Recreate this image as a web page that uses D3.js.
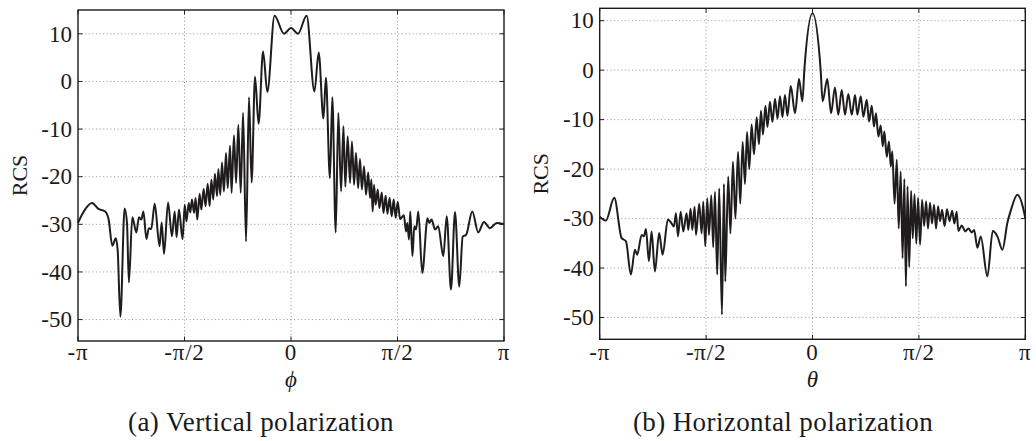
<!DOCTYPE html>
<html><head><meta charset="utf-8">
<script src="https://cdn.jsdelivr.net/npm/d3@7"></script>
<style>
html,body{margin:0;padding:0;background:#fff;}
svg text{font-family:"Liberation Serif","Times New Roman",serif;fill:#1a1a1a;}
</style></head>
<body>
<svg id="chart" width="1036" height="441"></svg>
<script>
// ---------- data (angles in degrees, RCS in dB) ----------
const xTickValues = [-180, -90, 0, 90, 180];
const xTickLabels = ["-π", "-π/2", "0", "π/2", "π"];
const yTickValues = [10, 0, -10, -20, -30, -40, -50];
const yTickLabels = ["10", "0", "-10", "-20", "-30", "-40", "-50"];

// (a) Vertical polarization: phi (deg)
const phiA = [-180,-175.9,-168.1,-163.1,-157.0,-154.1,-151.0,-148.1,-146.5,-144.2,-140.6,-138.6,-137.0,-134.1,-130.7,-128.5,-126.5,-124.7,-122.2,-120.1,-118.1,-115.2,-111.1,-109.3,-107.3,-103.9,-100.6,-98.3,-96.7,-94.7,-91.6,-89.8,-88.4,-86.4,-85.1,-83.7,-81.9,-80.6,-79.2,-77.2,-75.8,-73.8,-72.2,-70.4,-68.8,-67.3,-65.7,-64.3,-62.5,-61.4,-59.8,-58.3,-56.7,-54.9,-53.5,-51.5,-50.2,-48.2,-46.4,-44.5,-42.5,-40.5,-38.0,-35.5,-33.3,-30.4,-27.4,-23.6,-20.0,-13.9,-5.9,0,
  5.9,13.2,19.8,23.4,27.4,29.5,32.9,34.9,37.8,40.0,42.3,44.3,45.9,47.9,49.9,51.5,53.3,54.9,56.7,58.3,59.9,61.7,63.4,65.2,66.8,67.9,69.0,70.2,71.5,73.3,74.7,76.7,78.1,80.0,81.5,83.3,85.1,86.8,88.4,90.2,92.2,95.4,97.2,98.3,99.7,100.8,102.6,104.2,105.7,107.6,110.9,115.4,116.8,118.8,121.7,124.4,128.7,131.6,135.2,138.6,142.2,145.1,148.0,153.2,158.2,163.1,168.1,173.9,180];
const rcsA = [-29.7,-27.6,-25.5,-26.7,-27.3,-29.0,-34.5,-32.9,-35.3,-49.4,-26.7,-29.7,-42.2,-28.5,-31.7,-28.5,-29.0,-27.3,-33.1,-30.8,-31.0,-25.7,-34.6,-29.6,-36.2,-25.4,-32.5,-27.3,-32.7,-26.9,-33.1,-25.9,-29.4,-25.5,-27.5,-24.8,-27.6,-24.5,-29.0,-23.6,-26.9,-22.6,-26.2,-21.5,-26.2,-20.6,-24.8,-19.4,-24.1,-18.4,-23.8,-17.0,-23.1,-15.0,-22.4,-13.5,-23.4,-11.3,-21.3,-9.1,-23.4,-6.6,-33.6,-3.3,-21.2,1.0,-8.9,6.3,-2.2,13.8,10.0,11.2,
  10.0,13.8,-2.1,6.1,-7.8,0.8,-20.3,-3.3,-31.7,-6.6,-23.1,-9.4,-22.1,-11.5,-21.3,-12.6,-21.7,-15.0,-22.4,-16.3,-22.7,-17.8,-23.8,-19.1,-24.5,-20.6,-27.3,-21.7,-25.9,-22.7,-26.6,-23.3,-27.6,-24.0,-27.8,-24.5,-28.3,-24.8,-28.6,-25.3,-28.9,-28.1,-31.5,-29.7,-33.2,-27.3,-36.7,-30.4,-31.1,-27.3,-40.2,-28.7,-29.7,-29.0,-31.1,-30.4,-36.7,-28.3,-43.7,-27.4,-43.1,-32.6,-32.2,-27.3,-31.7,-29.5,-30.8,-29.7,-30.0];

// (b) Horizontal polarization: theta (deg)
const thetaB = [-180,-174.8,-167.7,-161.5,-157.8,-153.6,-150.2,-148.3,-144.5,-142.6,-140.9,-138.4,-136.1,-133.3,-129.7,-126.8,-122.3,-120.0,-117.2,-115.5,-113.8,-111.5,-109.3,-106.5,-105.1,-103.1,-101.7,-99.7,-98.6,-95.8,-93.8,-92.4,-90.7,-89.0,-87.6,-85.6,-84.0,-82.5,-80.6,-78.9,-76.6,-74.9,-73.8,-71.3,-69.4,-67.3,-65.2,-63.0,-61.1,-59.1,-57.1,-55.4,-53.5,-51.5,-49.5,-47.2,-45.3,-43.6,-41.9,-39.8,-38.1,-36.0,-33.9,-31.7,-29.6,-27.5,-25.4,-23.3,-21.2,-18.4,-14.8,-11.4,-8.6,-6.9,0,
  6.9,8.6,12.5,15.7,19.0,21.8,24.7,27.5,30.3,33.2,36.0,37.9,40.8,43.0,45.9,47.8,50.1,52.0,53.7,55.7,57.7,59.4,60.8,62.8,64.7,66.2,67.5,69.4,71.3,72.9,74.6,76.2,77.7,79.0,80.4,81.8,83.4,84.8,86.3,87.8,89.3,91.0,92.7,94.4,96.1,97.7,99.4,101.1,102.8,104.5,106.2,107.9,109.6,111.7,113.8,115.9,118.1,120.0,121.9,123.4,126.3,129.1,131.9,134.7,136.7,139.5,142.3,147.9,152.5,156.4,160.6,164.9,167.7,173.3,177.9,180];
const rcsB = [-29.6,-30.4,-25.8,-33.9,-34.6,-41.3,-36.3,-37.3,-33.3,-33.6,-32.1,-38.6,-32.6,-40.7,-32.9,-37.3,-30.2,-30.7,-31.6,-28.9,-33.6,-28.6,-32.6,-28.9,-32.3,-28.0,-32.3,-27.6,-33.3,-27.0,-33.0,-26.6,-35.6,-25.9,-33.3,-25.3,-35.8,-24.6,-41.3,-23.9,-49.4,-23.0,-42.7,-21.5,-33,-18.5,-30,-16.5,-27,-14.5,-23,-12.5,-20,-11,-17,-9.5,-15,-8.2,-13,-7.2,-11.5,-6.4,-10.5,-5.8,-9.8,-5.3,-9.5,-5.0,-9.2,-3.2,-8.7,-1.8,-6.3,0,11.5,
  0,-6.3,-1.8,-8.7,-3.5,-9.0,-4.0,-9.0,-4.8,-9.0,-5.0,-9.0,-5.3,-9.4,-6.0,-10.4,-7.2,-11.4,-8.7,-13.4,-11.2,-15.4,-12.4,-17.5,-14.4,-19.5,-16.4,-27,-18.1,-32,-20.5,-38,-22,-43.7,-23.5,-39.8,-24.4,-34,-25.1,-35.1,-25.8,-35.3,-26.2,-31.5,-26.5,-32,-26.8,-31,-27.2,-32,-27.5,-30.5,-28.2,-31.5,-28.1,-30.5,-28.4,-31,-28.6,-32.5,-31.4,-32.6,-32.0,-32.8,-32.3,-35.9,-33.6,-41.7,-32.5,-33.6,-36.3,-30.8,-28.4,-25.2,-27.6,-29.9];

const panels = [
  {x: phiA, y: rcsA, xr:[78,504], yr:[10,341], yd:[-54.5,15], xlab:"ϕ", cap:"(a) Vertical polarization", ylabX:27, capX:261},
  {x: thetaB, y: rcsB, xr:[599.7,1025.3], yr:[8.3,339.3], yd:[-54.4,12.5], xlab:"θ", cap:"(b) Horizontal polarization", ylabX:548, capX:783}
];

const svg = d3.select("#chart");
const tl = 4.5;

panels.forEach(p => {
  const x = d3.scaleLinear().domain([-180,180]).range(p.xr);
  const y = d3.scaleLinear().domain(p.yd).range([p.yr[1], p.yr[0]]);
  const g = svg.append("g");
  const [x0,x1] = p.xr, [y0,y1] = p.yr;

  // grid
  g.selectAll(".hg").data(yTickValues).join("line")
    .attr("x1",x0).attr("x2",x1).attr("y1",d=>y(d)).attr("y2",d=>y(d))
    .attr("stroke","#8a8a8a").attr("stroke-width",0.9).attr("stroke-dasharray","1,2.6");
  g.selectAll(".vg").data(xTickValues.slice(1,-1)).join("line")
    .attr("x1",d=>x(d)).attr("x2",d=>x(d)).attr("y1",y0).attr("y2",y1)
    .attr("stroke","#8a8a8a").attr("stroke-width",0.9).attr("stroke-dasharray","1,2.6");

  // curve
  const line = d3.line().x((d,i)=>x(p.x[i])).y((d,i)=>y(p.y[i])).curve(d3.curveMonotoneX);
  g.append("path").datum(p.y).attr("d", line)
    .attr("fill","none").attr("stroke","#1f1c1d").attr("stroke-width",2).attr("stroke-linejoin","round");

  // ticks (inward, all sides)
  yTickValues.forEach(v => {
    g.append("line").attr("x1",x0).attr("x2",x0+tl).attr("y1",y(v)).attr("y2",y(v)).attr("stroke","#222");
    g.append("line").attr("x1",x1).attr("x2",x1-tl).attr("y1",y(v)).attr("y2",y(v)).attr("stroke","#222");
  });
  xTickValues.forEach(v => {
    g.append("line").attr("x1",x(v)).attr("x2",x(v)).attr("y1",y1).attr("y2",y1-tl).attr("stroke","#222");
    g.append("line").attr("x1",x(v)).attr("x2",x(v)).attr("y1",y0).attr("y2",y0+tl).attr("stroke","#222");
  });

  // frame
  g.append("rect").attr("x",x0).attr("y",y0).attr("width",x1-x0).attr("height",y1-y0)
    .attr("fill","none").attr("stroke","#1a1a1a").attr("stroke-width",1.4);

  // tick labels
  g.selectAll(".yl").data(yTickValues).join("text")
    .attr("x",x0-6).attr("y",d=>y(d)+7.8).attr("text-anchor","end")
    .attr("font-size",23).text((d,i)=>yTickLabels[i]);
  g.selectAll(".xl").data(xTickValues).join("text")
    .attr("x",d=>x(d)).attr("y",360).attr("text-anchor","middle")
    .attr("font-size",23).attr("letter-spacing",0.8).text((d,i)=>xTickLabels[i]);

  // axis labels
  g.append("text").attr("transform",`translate(${p.ylabX},${(y0+y1)/2}) rotate(-90)`)
    .attr("text-anchor","middle").attr("font-size",22).text("RCS");
  g.append("text").attr("x",x(0)).attr("y",387).attr("text-anchor","middle")
    .attr("font-size",23).attr("font-style","italic").text(p.xlab);
  g.append("text").attr("x",p.capX).attr("y",431).attr("text-anchor","middle")
    .attr("font-size",27).attr("letter-spacing",0.4).text(p.cap);
});
</script>
</body></html>
